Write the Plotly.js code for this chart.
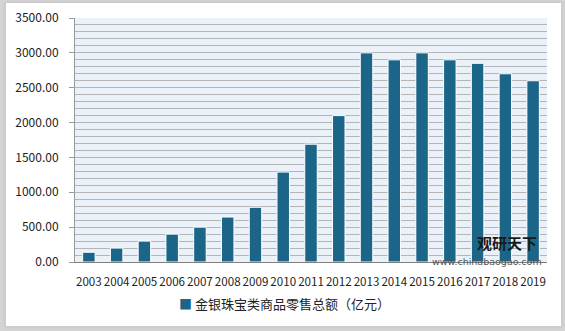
<!DOCTYPE html>
<html><head><meta charset="utf-8">
<script src="https://cdn.plot.ly/plotly-3.0.1.min.js"></script>
<style>
html,body{margin:0;padding:0;width:565px;height:331px;overflow:hidden;background:#d6d6d6;}
#card{position:absolute;left:6px;top:3px;width:555px;height:323px;background:#fff;box-shadow:0 0 4px 2px #c8c8c8;}
#chart{position:absolute;left:0;top:0;width:565px;height:331px;}
</style></head><body>
<div id="card"></div>
<div id="chart"></div>
<script>
const years = ['2003','2004','2005','2006','2007','2008','2009','2010','2011','2012','2013','2014','2015','2016','2017','2018','2019'];
const sales = [140,200,300,400,500,645,785,1290,1690,2100,3000,2900,3000,2900,2850,2700,2600];
const seriesName = '金银珠宝类商品零售总额（亿元）';
const yTicks = [0,500,1000,1500,2000,2500,3000,3500];
const yTickText = yTicks.map(v => v.toFixed(2));
const barColor = '#1b6688';

const font = "'Noto Sans CJK SC', 'Noto Sans', sans-serif";
Plotly.newPlot('chart', [{
  type:'bar', x:years, y:sales, name:seriesName,
  marker:{color:barColor, line:{color:'#ffffff', width:1}},
  width:0.45, showlegend:false
}], {
  width:565, height:331,
  margin:{l:75, r:18, t:18, b:69},
  paper_bgcolor:'rgba(0,0,0,0)', plot_bgcolor:'#eaf1f8',
  font:{family:font, size:12, color:'#222'},
  showlegend:false,
  xaxis:{type:'category', showgrid:false, showline:true, linecolor:'#7f7f7f', linewidth:1, ticks:'',
         tickfont:{size:11.6, color:'#222'}, tickangle:0, ticklabelstandoff:9},
  yaxis:{range:[0,3500], tickvals:yTicks, ticktext:yTickText, showgrid:true, gridcolor:'#b5b5b5', gridwidth:1,
         minor:{dtick:100, tick0:0, showgrid:true, gridcolor:'#b5b5b5', gridwidth:1, ticks:''},
         showline:true, linecolor:'#9a9a9a', linewidth:1, ticks:'outside', ticklen:5, tickcolor:'#9a9a9a',
         ticklabelstandoff:8, zeroline:false, tickfont:{size:12, color:'#222'}},
  annotations:[
    {xref:'paper', yref:'paper', x:0.443, y:-0.172, text:'<span style="color:'+barColor+'">■</span> '+seriesName, showarrow:false,
     font:{size:13, color:'#222', family:font}, xanchor:'center', yanchor:'middle'},
    {xref:'paper', yref:'paper', x:0.915, y:0.078, text:'<b>观研天下</b>', showarrow:false, font:{size:15, color:'#1a1a1a', family:font}, xanchor:'center', yanchor:'middle'},
    {xref:'paper', yref:'paper', x:0.873, y:0.004, text:'www.chinabaogao.com', showarrow:false, font:{size:9.5, color:'#555', family:"'DejaVu Sans', sans-serif"}, xanchor:'center', yanchor:'middle'}
  ]
}, {displayModeBar:false, staticPlot:true});
</script>
</body></html>
